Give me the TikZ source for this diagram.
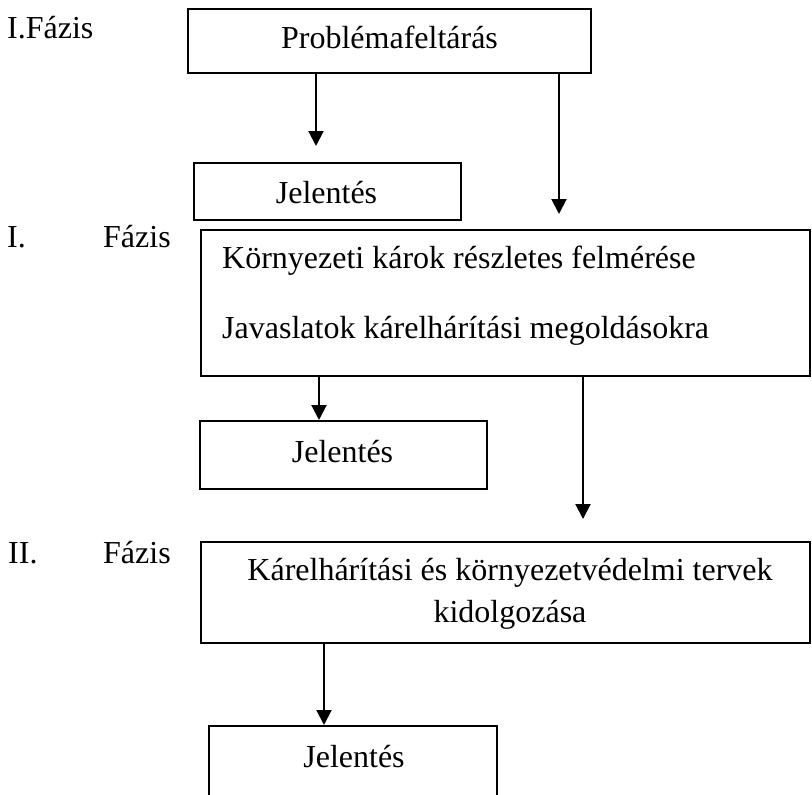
\documentclass[tikz,border=0pt]{standalone}
\usepackage{fontspec}
\setmainfont{Liberation Serif}
\usetikzlibrary{arrows.meta}

\tikzset{
  box/.style={draw=black, line width=2pt, inner sep=0pt, fill=none},
  txt/.style={inner sep=0pt, font=\fontsize{32}{38}\selectfont},
  arr/.style={draw=black, line width=2pt, -{Triangle[width=15pt,length=15pt]}},
}

\begin{document}
\begin{tikzpicture}[x=1pt, y=-1pt]
  \clip (0,0) rectangle (812,795);
  \fill[white] (0,0) rectangle (812,795);

  % phase labels
  \node[txt, anchor=base west] (ph0) at (7,38) {I.Fázis};
  \node[txt, anchor=base west] (ph1a) at (7,247) {I.};
  \node[txt, anchor=base west] (ph1b) at (103,247) {Fázis};
  \node[txt, anchor=base west] (ph2a) at (8,563) {II.};
  \node[txt, anchor=base west] (ph2b) at (103,563) {Fázis};

  % boxes
  \node[box, minimum width=403pt, minimum height=64pt] (p0) at (389.5,41) {};
  \node[txt, anchor=base] (p0t) at (389.5,48) {Problémafeltárás};

  \node[box, minimum width=267pt, minimum height=57pt] (j1) at (327.5,191.5) {};
  \node[txt, anchor=base] (j1t) at (326.5,203) {Jelentés};

  \node[box, minimum width=609pt, minimum height=146pt] (b2) at (505.5,303) {};
  \node[txt, anchor=base west] (b2a) at (222,268) {Környezeti károk részletes felmérése};
  \node[txt, anchor=base west] (b2b) at (222,338) {Javaslatok kárelhárítási megoldásokra};

  \node[box, minimum width=287pt, minimum height=68pt] (j2) at (343.5,455) {};
  \node[txt, anchor=base] (j2t) at (342.5,462) {Jelentés};

  \node[box, minimum width=609pt, minimum height=101pt] (b3) at (505.5,592.5) {};
  \node[txt, anchor=base] (b3a) at (510,580) {Kárelhárítási és környezetvédelmi tervek};
  \node[txt, anchor=base] (b3b) at (510,622) {kidolgozása};

  \node[box, minimum width=288pt, minimum height=120pt] (j3) at (353,786) {};
  \node[txt, anchor=base] (j3t) at (354,767) {Jelentés};

  % connector columns
  \coordinate (c1) at (316,0);
  \coordinate (c2) at (559,0);
  \coordinate (c3) at (319,0);
  \coordinate (c4) at (583,0);
  \coordinate (c5) at (324,0);

  % connectors
  \draw[arr, shorten >=16pt] (p0.south -| c1) -- (j1.north -| c1);
  \draw[arr, shorten >=15pt] (p0.south -| c2) -- (b2.north -| c2);
  \draw[arr] (b2.south -| c3) -- (j2.north -| c3);
  \draw[arr, shorten >=22pt] (b2.south -| c4) -- (b3.north -| c4);
  \draw[arr] (b3.south -| c5) -- (j3.north -| c5);
\end{tikzpicture}
\end{document}
